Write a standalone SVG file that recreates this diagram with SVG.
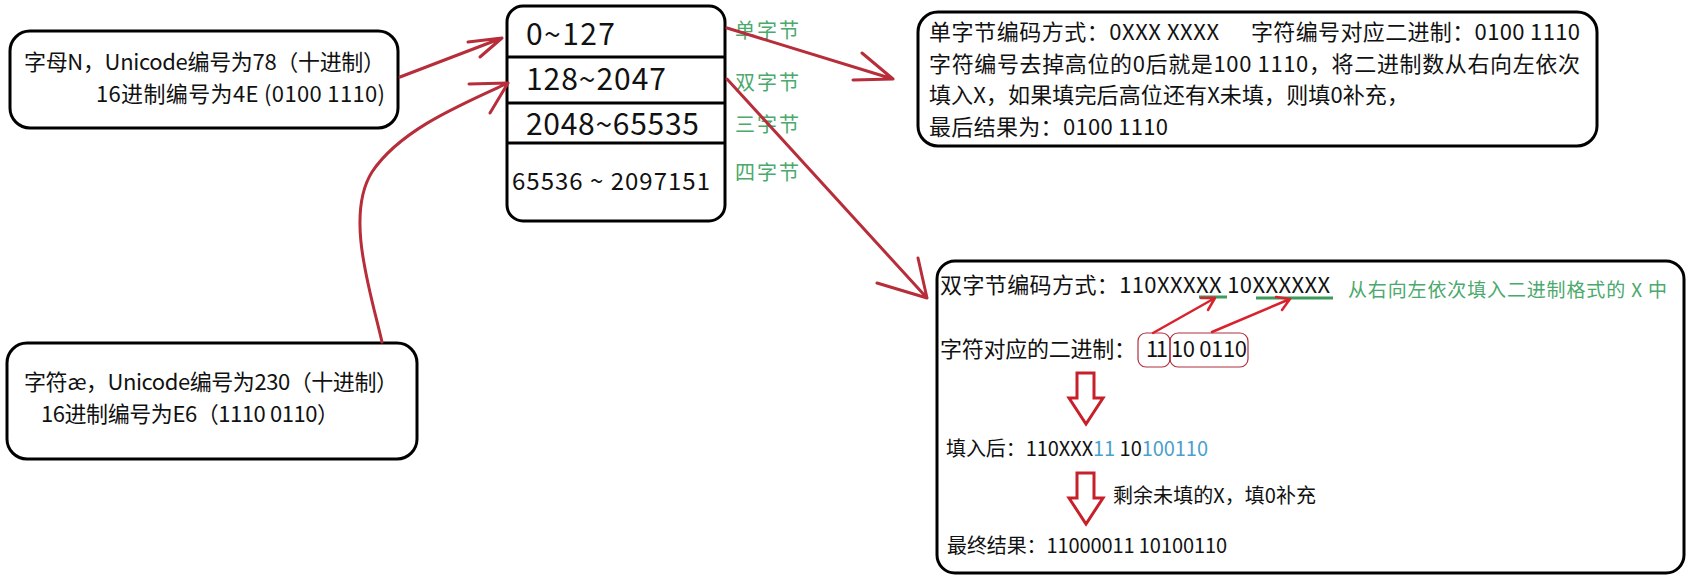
<svg xmlns="http://www.w3.org/2000/svg" width="1702" height="582" viewBox="0 0 1702 582">
<style>
text{font-family:"Noto Sans CJK SC","Noto Sans",sans-serif;fill:#111}
.box{fill:#fff;stroke:#000;stroke-width:3}
.t22{font-size:22px}
.t20{font-size:20px}
.num{font-size:30px}
.green{fill:#4aa96c;font-size:20px}
.blue{fill:#4a9fcc}
.con{fill:none;stroke:#b72d3a;stroke-width:3;stroke-linecap:round;stroke-linejoin:round}
.thin{fill:none;stroke:#d8232e;stroke-width:2.5;stroke-linecap:round;stroke-linejoin:round}
.ring{fill:none;stroke:#b03040;stroke-width:1.2}
.under{stroke:#3d9a5c;stroke-width:3}
.down{fill:#fff;stroke:#c8202a;stroke-width:3;stroke-linejoin:miter}
</style>
<rect width="1702" height="582" fill="#fff"/>

<g id="node-letterN">
<rect class="box" x="10" y="31" width="388" height="97" rx="20"/>
<text class="t22" x="24" y="70" textLength="361">字母N，Unicode编号为78（十进制）</text>
<text class="t22" x="96" y="102" textLength="289">16进制编号为4E (0100 1110)</text>
</g>

<g id="node-ae">
<rect class="box" x="7" y="343" width="410" height="116" rx="20"/>
<text class="t22" x="24" y="390" textLength="374">字符æ，Unicode编号为230（十进制）</text>
<text class="t22" x="41" y="422" textLength="298">16进制编号为E6（1110 0110）</text>
</g>

<g id="node-ranges">
<rect class="box" x="507" y="6" width="218" height="215" rx="16"/>
<line x1="507" y1="57" x2="725" y2="57" stroke="#000" stroke-width="3"/>
<line x1="507" y1="103" x2="725" y2="103" stroke="#000" stroke-width="3"/>
<line x1="507" y1="143" x2="725" y2="143" stroke="#000" stroke-width="3"/>
<text class="num" x="526" y="45" textLength="89">0~127</text>
<text class="num" x="526" y="90" textLength="140">128~2047</text>
<text class="num" x="526" y="135" textLength="173">2048~65535</text>
<text x="512" y="190" font-size="24" textLength="198">65536 ~ 2097151</text>
</g>

<g id="labels-bytes">
<text class="green" x="735" y="38" textLength="64">单字节</text>
<text class="green" x="735" y="90" textLength="64">双字节</text>
<text class="green" x="735" y="132" textLength="64">三字节</text>
<text class="green" x="735" y="180" textLength="64">四字节</text>
</g>

<g id="node-single">
<rect class="box" x="918" y="12" width="679" height="134" rx="20"/>
<text class="t22" x="929" y="40" textLength="290">单字节编码方式：0XXX XXXX</text>
<text class="t22" x="1251" y="40" textLength="329">字符编号对应二进制：0100 1110</text>
<text class="t22" x="929" y="72" textLength="651">字符编号去掉高位的0后就是100 1110，将二进制数从右向左依次</text>
<text class="t22" x="929" y="103" textLength="480">填入X，如果填完后高位还有X未填，则填0补充，</text>
<text class="t22" x="929" y="135" textLength="239">最后结果为：0100 1110</text>
</g>

<g id="node-double">
<rect class="box" x="937" y="261" width="747" height="312" rx="18"/>
<text class="t22" x="940" y="293" textLength="390">双字节编码方式：110XXXXX 10XXXXXX</text>
<text x="1348" y="297" font-size="19" fill="#4aa96c" style="fill:#4aa96c" textLength="319">从右向左依次填入二进制格式的 X 中</text>
<line class="under" x1="1199" y1="297" x2="1227" y2="297"/>
<line class="under" x1="1256" y1="298" x2="1333" y2="298"/>
<text class="t22" x="940" y="357" textLength="196">字符对应的二进制：</text>
<text class="t22" x="1146" y="357" textLength="22">11</text>
<text class="t22" x="1171" y="357" textLength="76">10 0110</text>
<rect class="ring" x="1138" y="333" width="32" height="34" rx="8"/>
<rect class="ring" x="1170" y="333" width="78" height="34" rx="8"/>
<polygon class="down" points="1077,373 1094,373 1094,398 1103,398 1086,424 1069,398 1077,398"/>
<text class="t20" x="946" y="456" textLength="262">填入后：110XXX<tspan class="blue">11</tspan> 10<tspan class="blue">100110</tspan></text>
<polygon class="down" points="1077,473 1094,473 1094,498 1103,498 1086,524 1069,498 1077,498"/>
<text class="t20" x="1113" y="503" textLength="203">剩余未填的X，填0补充</text>
<text class="t20" x="947" y="553" textLength="280">最终结果：11000011 10100110</text>
</g>

<g id="connectors">
<path class="con" d="M400,77 L502,38 M468,42 L502,38 L480,57"/>
<path class="con" d="M382,342 C370,290 345,215 372,172 C400,130 460,105 508,83 M469,84 L508,83 L490,113" stroke-width="2.5"/>
<path class="con" d="M727,28 L893,79 M862,53 L893,79 L853,80"/>
<path class="con" d="M727,79 L927,298 M918,258 L927,298 L877,283"/>
<path class="thin" d="M1153,333 L1215,298 M1201,298 L1215,298 L1208,310"/>
<path class="thin" d="M1212,332 L1290,299 M1276,297 L1290,299 L1282,310"/>
</g>
</svg>
